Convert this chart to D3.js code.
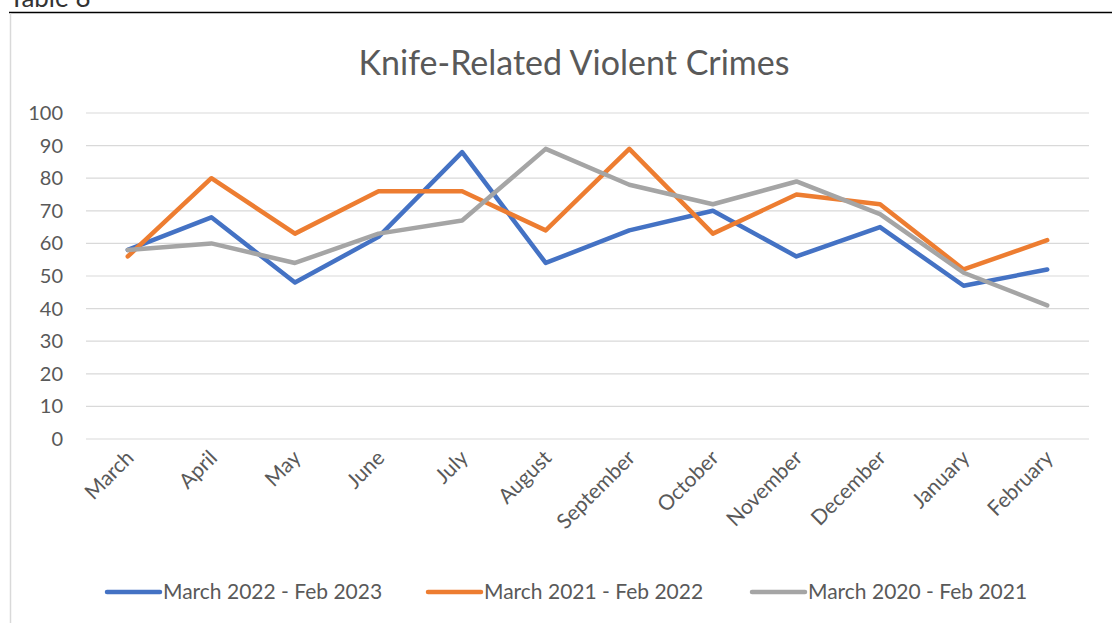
<!DOCTYPE html>
<html>
<head>
<meta charset="utf-8">
<script src="https://cdn.jsdelivr.net/npm/d3@7"></script>
<style>
  body { margin: 0; background: #fff; }
  text { font-family: Lato, "Open Sans", sans-serif; }
</style>
</head>
<body>
<script>
// chart data
var months = ["March", "April", "May", "June", "July", "August", "September",
              "October", "November", "December", "January", "February"];
var yTicks = [0, 10, 20, 30, 40, 50, 60, 70, 80, 90, 100];
var seriesNames = ["March 2022 - Feb 2023", "March 2021 - Feb 2022", "March 2020 - Feb 2021"];
var values2022 = [58, 68, 48, 62, 88, 54, 64, 70, 56, 65, 47, 52];
var values2021 = [56, 80, 63, 76, 76, 64, 89, 63, 75, 72, 52, 61];
var values2020 = [58, 60, 54, 63, 67, 89, 78, 72, 79, 69, 51, 41];

var colors = ["#4472C4", "#ED7D31", "#A5A5A5"];
var series = [values2022, values2021, values2020];

var width = 1112, height = 623;

var svg = d3.select("body").append("svg")
    .attr("width", width)
    .attr("height", height);

// "Table 8" caption, mostly cut off at top like in the source
svg.append("text")
    .attr("x", 9)
    .attr("y", 7)
    .attr("font-size", 26)
    .attr("fill", "#333")
    .text("Table 8");

// frame lines
svg.append("line")
    .attr("x1", 9).attr("x2", width)
    .attr("y1", 12.5).attr("y2", 12.5)
    .attr("stroke", "#000").attr("stroke-width", 1.5);
svg.append("line")
    .attr("x1", 10.5).attr("x2", 10.5)
    .attr("y1", 13).attr("y2", height)
    .attr("stroke", "#d9d9d9").attr("stroke-width", 1.5);

var x = d3.scaleBand()
    .domain(months)
    .range([86, 1089]);

var y = d3.scaleLinear()
    .domain([0, 100])
    .range([439, 113]);

// title
svg.append("text")
    .attr("x", 574)
    .attr("y", 75)
    .attr("text-anchor", "middle")
    .attr("font-size", 34)
    .attr("fill", "#595959")
    .text("Knife-Related Violent Crimes");

// gridlines
svg.append("g")
    .selectAll("line")
    .data(yTicks)
    .enter()
    .append("line")
    .attr("x1", 86).attr("x2", 1089)
    .attr("y1", function(d) { return y(d); })
    .attr("y2", function(d) { return y(d); })
    .attr("stroke", "#d9d9d9")
    .attr("stroke-width", 1.2);

// y axis labels
var yAxis = d3.axisLeft(y).tickValues(yTicks).tickSize(0).tickPadding(0);
var yg = svg.append("g")
    .attr("transform", "translate(63,0)")
    .call(yAxis);
yg.select(".domain").remove();
yg.selectAll("text")
    .attr("font-size", 20)
    .attr("fill", "#595959")
    .style("font-family", "Lato, 'Open Sans', sans-serif");

// x axis labels
var xAxis = d3.axisBottom(x).tickSize(0).tickPadding(0);
var xg = svg.append("g")
    .attr("transform", "translate(0,439)")
    .call(xAxis);
xg.select(".domain").remove();
xg.selectAll("text")
    .attr("font-size", 21)
    .attr("fill", "#595959")
    .style("font-family", "Lato, 'Open Sans', sans-serif")
    .attr("text-anchor", "end")
    .attr("dy", "0.35em")
    .attr("transform", "translate(2,15) rotate(-45)");

// lines
var line = d3.line()
    .x(function(d, i) { return x(months[i]) + x.bandwidth() / 2; })
    .y(function(d) { return y(d); });

svg.append("g")
    .selectAll("path")
    .data(series)
    .enter()
    .append("path")
    .attr("d", line)
    .attr("fill", "none")
    .attr("stroke", function(d, i) { return colors[i]; })
    .attr("stroke-width", 4.5)
    .attr("stroke-linejoin", "round")
    .attr("stroke-linecap", "round");

// legend
var legendX = [107, 428, 752];
var legend = svg.append("g")
    .selectAll("g")
    .data(seriesNames)
    .enter()
    .append("g")
    .attr("transform", function(d, i) { return "translate(" + legendX[i] + ",592)"; });

legend.append("line")
    .attr("x1", 0).attr("x2", 53)
    .attr("stroke", function(d, i) { return colors[i]; })
    .attr("stroke-width", 4.5)
    .attr("stroke-linecap", "round");

legend.append("text")
    .attr("x", 56)
    .attr("dy", "0.35em")
    .attr("font-size", 21)
    .attr("fill", "#595959")
    .text(function(d) { return d; });
</script>
</body>
</html>
